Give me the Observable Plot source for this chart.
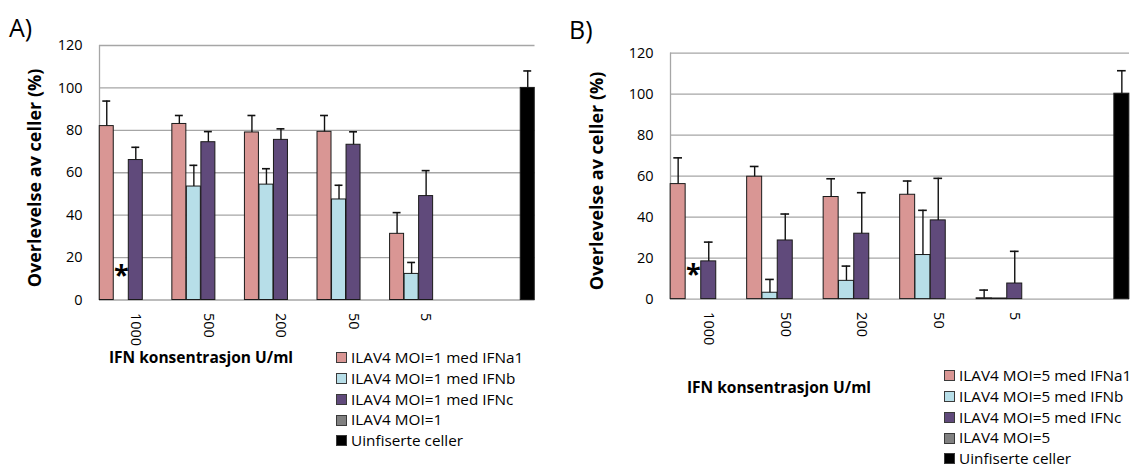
<!DOCTYPE html>
<html><head><meta charset="utf-8">
<script src="https://cdn.jsdelivr.net/npm/d3@7"></script>
<script src="https://cdn.jsdelivr.net/npm/@observablehq/plot@0.6"></script>
<style>
body{margin:0;background:#fff;font-family:"Open Sans",sans-serif;}
#root{position:relative;width:1142px;height:468px;background:#fff;}
#plots{display:flex;flex-direction:row;align-items:flex-start;}
#plots svg{flex:none;}
.abs{position:absolute;white-space:nowrap;color:#000;line-height:1;}
.panel{font-size:25px;}
.ytitle{font-weight:bold;font-size:18px;transform:translate(-50%,-50%) rotate(-90deg);}
.xtitle{font-weight:bold;font-size:15.5px;transform:translate(-50%,-50%);}
.legend .row{display:flex;align-items:center;height:20.7px;font-size:15.3px;}
.sw{width:9px;height:9px;border:1px solid #3a3a3a;margin-right:4px;flex:none;}
</style></head>
<body>
<div id="root"><div id="plots"></div></div>
<script>
const categories = ["1000", "500", "200", "50", "5", ""];
const yTicks = [0, 20, 40, 60, 80, 100, 120];
const colors = ["#d99694", "#b7dee8", "#604a7b", "#808080", "#000000"];
const seriesA = ["ILAV4 MOI=1 med IFNa1", "ILAV4 MOI=1 med IFNb", "ILAV4 MOI=1 med IFNc", "ILAV4 MOI=1", "Uinfiserte celler"];
const seriesB = ["ILAV4 MOI=5 med IFNa1", "ILAV4 MOI=5 med IFNb", "ILAV4 MOI=5 med IFNc", "ILAV4 MOI=5", "Uinfiserte celler"];

// Panel A values (per category, null = no bar)
const aIFNa1 = [82, 83, 79, 79.3, 31.2, null];
const aIFNa1Err = [11.8, 4, 8, 7.7, 10, null];
const aIFNb = [null, 53.5, 54.4, 47.4, 12.3, null];
const aIFNbErr = [null, 10, 7.5, 6.7, 5.4, null];
const aIFNc = [66, 74.4, 75.5, 73.2, 49, null];
const aIFNcErr = [6, 5, 5.2, 6.1, 12, null];
const aMOI = [null, null, null, null, null, null];
const aMOIErr = [null, null, null, null, null, null];
const aUninf = [null, null, null, null, null, 100];
const aUninfErr = [null, null, null, null, null, 8];
const aStar = ["1000"];

// Panel B values
const bIFNa1 = [56.1, 59.7, 49.8, 50.9, 0.4, null];
const bIFNa1Err = [12.8, 5, 8.9, 6.7, 4, null];
const bIFNb = [null, 3.1, 8.9, 21.5, 0.3, null];
const bIFNbErr = [null, 6.5, 7.2, 21.8, 0, null];
const bIFNc = [18.4, 28.6, 31.9, 38.4, 7.6, null];
const bIFNcErr = [9.4, 12.9, 20, 20.5, 15.7, null];
const bMOI = [null, null, null, null, null, null];
const bMOIErr = [null, null, null, null, null, null];
const bUninf = [null, null, null, null, null, 100.2];
const bUninfErr = [null, null, null, null, null, 11.2];
const bStar = ["1000"];

const key = (c, s) => c + "|" + s;

function buildRows(series, vals, errs) {
  const rows = [];
  series.forEach((s, k) => {
    categories.forEach((c, i) => {
      const v = vals[k][i];
      if (v != null) rows.push({cat: c, series: s, key: key(c, s), value: v, err: errs[k][i] || 0});
    });
  });
  return rows;
}

function chart(series, rows, stars, o) {
  const withErr = rows.filter(d => d.err > 0);
  const starRows = stars.map(c => ({key: key(c, series[1]), value: 0}));
  const slots = categories.flatMap(c => series.map(s => key(c, s)));
  const tickKeys = categories.map(c => key(c, series[2]));
  const gridRows = yTicks.map(t => ({y: t, x1: slots[0], x2: slots[slots.length - 1]}));
  const bandwidth = (o.width - o.ml - o.mr) / slots.length;
  return Plot.plot({
    width: o.width, height: o.height,
    marginLeft: o.ml, marginRight: o.mr, marginTop: o.mt, marginBottom: o.mb,
    style: {fontFamily: "'Open Sans', sans-serif", fontSize: "14.5px", background: "#fff"},
    x: {domain: slots, padding: 0, round: false},
    y: {domain: [0, 120], label: null},
    color: {domain: series, range: colors},
    marks: [
      Plot.ruleY(gridRows, {y: "y", x1: "x1", x2: "x2", stroke: "#a6a6a6", strokeWidth: 1.3}),
      Plot.ruleX([{x: slots[0]}], {x: "x", y1: 0, y2: 120, dx: -bandwidth / 2, stroke: "#a6a6a6", strokeWidth: 1.3}),
      Plot.axisY(yTicks, {tickSize: 0, tickPadding: 17, label: null, fontSize: 14.5}),
      Plot.axisX(tickKeys, {anchor: "bottom", tickFormat: k => k.split("|")[0], tickRotate: 90, tickSize: 0, tickPadding: 13, label: null, fontSize: 14.5}),
      Plot.barY(rows, {x: "key", y: "value", fill: "series", stroke: "#1a1a1a", strokeWidth: 1, insetLeft: o.inset, insetRight: o.inset}),
      Plot.ruleX(withErr, {x: "key", y1: "value", y2: d => d.value + d.err, stroke: "#111", strokeWidth: 1.4}),
      Plot.tickY(withErr, {x: "key", y: d => d.value + d.err, insetLeft: 3.3, insetRight: 3.3, stroke: "#111", strokeWidth: 1.6}),
      Plot.text(starRows, {x: "key", y: "value", text: () => "*", fontSize: 27, fontWeight: "bold", dy: -25, fill: "#000"})
    ]
  });
}

const root = document.getElementById("root");
const plots = document.getElementById("plots");
function addDiv(cls, text, css) {
  const d = document.createElement("div");
  d.className = "abs " + cls;
  d.textContent = text;
  Object.assign(d.style, css);
  root.appendChild(d);
  return d;
}
function addLegend(series, left, top) {
  const lg = document.createElement("div");
  lg.className = "abs legend";
  Object.assign(lg.style, {left: left + "px", top: top + "px"});
  series.forEach((s, i) => {
    const r = document.createElement("div");
    r.className = "row";
    const sw = document.createElement("span");
    sw.className = "sw";
    sw.style.background = colors[i];
    const t = document.createElement("span");
    t.textContent = s;
    r.appendChild(sw); r.appendChild(t);
    lg.appendChild(r);
  });
  root.appendChild(lg);
}

const rowsA = buildRows(seriesA, [aIFNa1, aIFNb, aIFNc, aMOI, aUninf], [aIFNa1Err, aIFNbErr, aIFNcErr, aMOIErr, aUninfErr]);
const rowsB = buildRows(seriesB, [bIFNa1, bIFNb, bIFNc, bMOI, bUninf], [bIFNa1Err, bIFNbErr, bIFNcErr, bMOIErr, bUninfErr]);

const svgA = chart(seriesA, rowsA, aStar, {width: 560, height: 350, ml: 99, mr: 25.5, mt: 45, mb: 50.5, inset: 0.26});
plots.appendChild(svgA);
const svgB = chart(seriesB, rowsB, bStar, {width: 580, height: 350, ml: 110, mr: 11, mt: 52.6, mb: 51.4, inset: 0.15});
plots.appendChild(svgB);

addDiv("panel", "A)", {left: "9px", top: "15px"});
addDiv("panel", "B)", {left: "569px", top: "17px"});
addDiv("ytitle", "Overlevelse av celler (%)", {left: "34px", top: "178px"});
addDiv("ytitle", "Overlevelse av celler (%)", {left: "596px", top: "181px"});
addDiv("xtitle", "IFN konsentrasjon U/ml", {left: "201px", top: "358px"});
addDiv("xtitle", "IFN konsentrasjon U/ml", {left: "779px", top: "388px"});
addLegend(seriesA, 336, 347.6);
addLegend(seriesB, 944, 365.6);
</script>
</body></html>
